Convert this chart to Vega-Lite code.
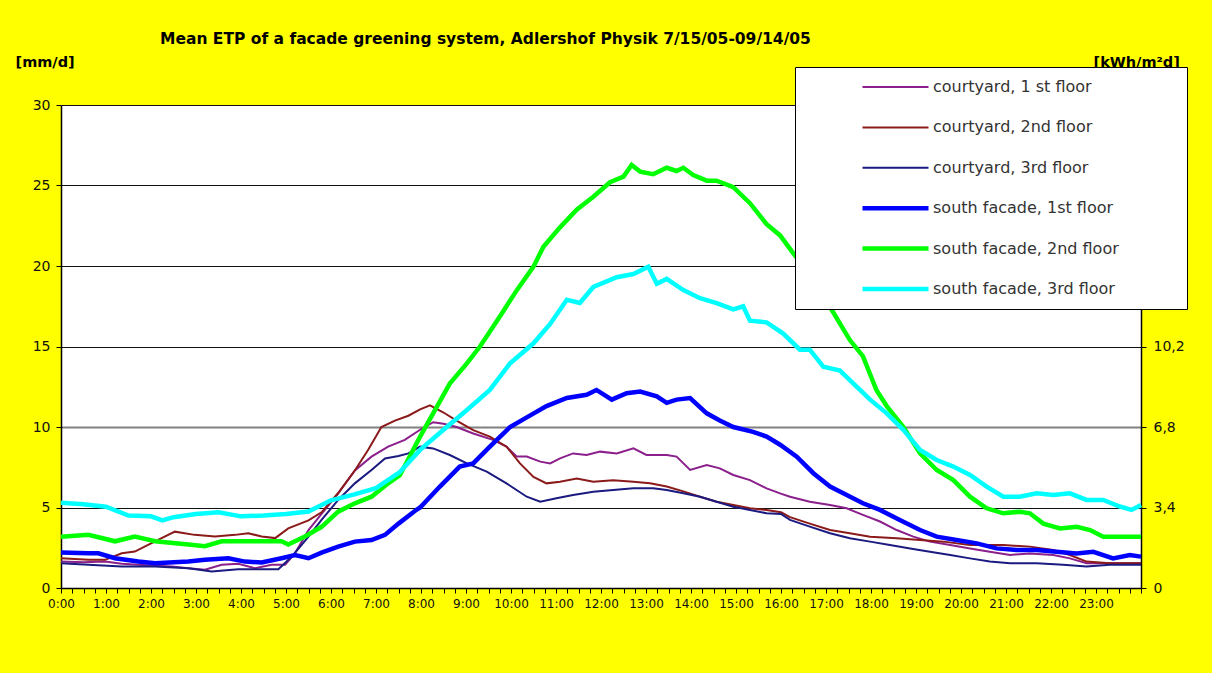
{
  "$schema": "https://vega.github.io/schema/vega-lite/v6.json",
  "width": 1080,
  "height": 483,
  "autosize": {"type": "none"},
  "padding": {"left": 61, "top": 105, "right": 71, "bottom": 85},
  "background": "#ffff00",
  "config": {
    "view": {"fill": "white", "stroke": null},
    "font": "DejaVu Sans",
    "axis": {"domainColor": "#000", "tickColor": "#000", "labelColor": "#111", "labelFont": "DejaVu Sans", "titleFont": "DejaVu Sans", "domainWidth": 1.5}
  },
  "title": {
    "text": "Mean ETP  of a facade greening system, Adlershof Physik 7/15/05-09/14/05",
    "anchor": "start",
    "frame": "group",
    "dx": 99,
    "offset": 7,
    "fontSize": 15.5,
    "fontWeight": "bold",
    "font": "DejaVu Sans",
    "color": "#000"
  },
  "data": {
    "values": [
      {"s":"courtyard, 1 st floor","h":0,"v":1.64},{"s":"courtyard, 1 st floor","h":0.5,"v":1.6},{"s":"courtyard, 1 st floor","h":0.98,"v":1.64},{"s":"courtyard, 1 st floor","h":1.35,"v":1.5},{"s":"courtyard, 1 st floor","h":1.72,"v":1.44},{"s":"courtyard, 1 st floor","h":2.1,"v":1.38},{"s":"courtyard, 1 st floor","h":2.46,"v":1.33},{"s":"courtyard, 1 st floor","h":2.83,"v":1.23},{"s":"courtyard, 1 st floor","h":3.2,"v":1.13},{"s":"courtyard, 1 st floor","h":3.57,"v":1.44},{"s":"courtyard, 1 st floor","h":3.94,"v":1.5},{"s":"courtyard, 1 st floor","h":4.31,"v":1.23},{"s":"courtyard, 1 st floor","h":4.68,"v":1.44},{"s":"courtyard, 1 st floor","h":4.98,"v":1.44},{"s":"courtyard, 1 st floor","h":5.2,"v":2.16},{"s":"courtyard, 1 st floor","h":5.5,"v":3.6},{"s":"courtyard, 1 st floor","h":5.79,"v":4.6},{"s":"courtyard, 1 st floor","h":6.16,"v":5.88},{"s":"courtyard, 1 st floor","h":6.53,"v":7.3},{"s":"courtyard, 1 st floor","h":6.9,"v":8.16},{"s":"courtyard, 1 st floor","h":7.27,"v":8.78},{"s":"courtyard, 1 st floor","h":7.64,"v":9.2},{"s":"courtyard, 1 st floor","h":7.98,"v":9.83},{"s":"courtyard, 1 st floor","h":8.27,"v":10.3},{"s":"courtyard, 1 st floor","h":8.5,"v":10.2},{"s":"courtyard, 1 st floor","h":8.79,"v":10.0},{"s":"courtyard, 1 st floor","h":9.16,"v":9.6},{"s":"courtyard, 1 st floor","h":9.6,"v":9.2},{"s":"courtyard, 1 st floor","h":9.9,"v":8.78},{"s":"courtyard, 1 st floor","h":10.13,"v":8.16},{"s":"courtyard, 1 st floor","h":10.35,"v":8.16},{"s":"courtyard, 1 st floor","h":10.65,"v":7.85},{"s":"courtyard, 1 st floor","h":10.87,"v":7.74},{"s":"courtyard, 1 st floor","h":11.09,"v":8.05},{"s":"courtyard, 1 st floor","h":11.38,"v":8.36},{"s":"courtyard, 1 st floor","h":11.68,"v":8.26},{"s":"courtyard, 1 st floor","h":11.98,"v":8.47},{"s":"courtyard, 1 st floor","h":12.35,"v":8.36},{"s":"courtyard, 1 st floor","h":12.72,"v":8.67},{"s":"courtyard, 1 st floor","h":13.01,"v":8.26},{"s":"courtyard, 1 st floor","h":13.46,"v":8.26},{"s":"courtyard, 1 st floor","h":13.68,"v":8.16},{"s":"courtyard, 1 st floor","h":13.98,"v":7.33},{"s":"courtyard, 1 st floor","h":14.35,"v":7.64},{"s":"courtyard, 1 st floor","h":14.64,"v":7.43},{"s":"courtyard, 1 st floor","h":14.94,"v":7.02},{"s":"courtyard, 1 st floor","h":15.31,"v":6.7},{"s":"courtyard, 1 st floor","h":15.68,"v":6.19},{"s":"courtyard, 1 st floor","h":15.98,"v":5.88},{"s":"courtyard, 1 st floor","h":16.2,"v":5.67},{"s":"courtyard, 1 st floor","h":16.64,"v":5.36},{"s":"courtyard, 1 st floor","h":17.09,"v":5.15},{"s":"courtyard, 1 st floor","h":17.46,"v":4.95},{"s":"courtyard, 1 st floor","h":17.82,"v":4.54},{"s":"courtyard, 1 st floor","h":18.2,"v":4.13},{"s":"courtyard, 1 st floor","h":18.57,"v":3.6},{"s":"courtyard, 1 st floor","h":18.94,"v":3.19},{"s":"courtyard, 1 st floor","h":19.31,"v":2.88},{"s":"courtyard, 1 st floor","h":19.76,"v":2.67},{"s":"courtyard, 1 st floor","h":20.2,"v":2.46},{"s":"courtyard, 1 st floor","h":20.64,"v":2.25},{"s":"courtyard, 1 st floor","h":21.09,"v":2.05},{"s":"courtyard, 1 st floor","h":21.53,"v":2.15},{"s":"courtyard, 1 st floor","h":22.05,"v":2.05},{"s":"courtyard, 1 st floor","h":22.42,"v":1.84},{"s":"courtyard, 1 st floor","h":22.79,"v":1.54},{"s":"courtyard, 1 st floor","h":23.31,"v":1.54},{"s":"courtyard, 1 st floor","h":24,"v":1.54},

      {"s":"courtyard, 2nd floor","h":0,"v":1.85},{"s":"courtyard, 2nd floor","h":0.61,"v":1.75},{"s":"courtyard, 2nd floor","h":0.98,"v":1.75},{"s":"courtyard, 2nd floor","h":1.35,"v":2.16},{"s":"courtyard, 2nd floor","h":1.64,"v":2.26},{"s":"courtyard, 2nd floor","h":2.09,"v":2.9},{"s":"courtyard, 2nd floor","h":2.53,"v":3.5},{"s":"courtyard, 2nd floor","h":2.97,"v":3.3},{"s":"courtyard, 2nd floor","h":3.42,"v":3.2},{"s":"courtyard, 2nd floor","h":3.87,"v":3.3},{"s":"courtyard, 2nd floor","h":4.16,"v":3.4},{"s":"courtyard, 2nd floor","h":4.46,"v":3.2},{"s":"courtyard, 2nd floor","h":4.76,"v":3.1},{"s":"courtyard, 2nd floor","h":5.05,"v":3.7},{"s":"courtyard, 2nd floor","h":5.5,"v":4.2},{"s":"courtyard, 2nd floor","h":5.79,"v":4.7},{"s":"courtyard, 2nd floor","h":6.16,"v":5.9},{"s":"courtyard, 2nd floor","h":6.53,"v":7.3},{"s":"courtyard, 2nd floor","h":6.83,"v":8.6},{"s":"courtyard, 2nd floor","h":7.12,"v":10.0},{"s":"courtyard, 2nd floor","h":7.42,"v":10.4},{"s":"courtyard, 2nd floor","h":7.72,"v":10.7},{"s":"courtyard, 2nd floor","h":7.98,"v":11.1},{"s":"courtyard, 2nd floor","h":8.2,"v":11.35},{"s":"courtyard, 2nd floor","h":8.5,"v":10.9},{"s":"courtyard, 2nd floor","h":8.79,"v":10.4},{"s":"courtyard, 2nd floor","h":9.16,"v":9.8},{"s":"courtyard, 2nd floor","h":9.53,"v":9.4},{"s":"courtyard, 2nd floor","h":9.9,"v":8.78},{"s":"courtyard, 2nd floor","h":10.2,"v":7.74},{"s":"courtyard, 2nd floor","h":10.5,"v":6.9},{"s":"courtyard, 2nd floor","h":10.79,"v":6.5},{"s":"courtyard, 2nd floor","h":11.09,"v":6.6},{"s":"courtyard, 2nd floor","h":11.46,"v":6.8},{"s":"courtyard, 2nd floor","h":11.83,"v":6.6},{"s":"courtyard, 2nd floor","h":12.27,"v":6.7},{"s":"courtyard, 2nd floor","h":12.72,"v":6.6},{"s":"courtyard, 2nd floor","h":13.09,"v":6.5},{"s":"courtyard, 2nd floor","h":13.46,"v":6.3},{"s":"courtyard, 2nd floor","h":13.83,"v":6.0},{"s":"courtyard, 2nd floor","h":14.2,"v":5.67},{"s":"courtyard, 2nd floor","h":14.57,"v":5.36},{"s":"courtyard, 2nd floor","h":14.94,"v":5.15},{"s":"courtyard, 2nd floor","h":15.31,"v":4.95},{"s":"courtyard, 2nd floor","h":15.68,"v":4.85},{"s":"courtyard, 2nd floor","h":16.0,"v":4.7},{"s":"courtyard, 2nd floor","h":16.2,"v":4.4},{"s":"courtyard, 2nd floor","h":16.64,"v":4.0},{"s":"courtyard, 2nd floor","h":17.09,"v":3.6},{"s":"courtyard, 2nd floor","h":17.53,"v":3.4},{"s":"courtyard, 2nd floor","h":17.98,"v":3.19},{"s":"courtyard, 2nd floor","h":18.57,"v":3.09},{"s":"courtyard, 2nd floor","h":19.09,"v":2.98},{"s":"courtyard, 2nd floor","h":19.61,"v":2.88},{"s":"courtyard, 2nd floor","h":20.2,"v":2.67},{"s":"courtyard, 2nd floor","h":20.94,"v":2.67},{"s":"courtyard, 2nd floor","h":21.53,"v":2.57},{"s":"courtyard, 2nd floor","h":22.05,"v":2.36},{"s":"courtyard, 2nd floor","h":22.42,"v":2.05},{"s":"courtyard, 2nd floor","h":22.79,"v":1.64},{"s":"courtyard, 2nd floor","h":23.31,"v":1.54},{"s":"courtyard, 2nd floor","h":24,"v":1.54},

      {"s":"courtyard, 3rd floor","h":0,"v":1.54},{"s":"courtyard, 3rd floor","h":0.61,"v":1.44},{"s":"courtyard, 3rd floor","h":1.35,"v":1.33},{"s":"courtyard, 3rd floor","h":2.09,"v":1.33},{"s":"courtyard, 3rd floor","h":2.83,"v":1.23},{"s":"courtyard, 3rd floor","h":3.35,"v":1.02},{"s":"courtyard, 3rd floor","h":3.94,"v":1.17},{"s":"courtyard, 3rd floor","h":4.46,"v":1.17},{"s":"courtyard, 3rd floor","h":4.83,"v":1.17},{"s":"courtyard, 3rd floor","h":5.13,"v":1.96},{"s":"courtyard, 3rd floor","h":5.5,"v":3.19},{"s":"courtyard, 3rd floor","h":5.79,"v":4.23},{"s":"courtyard, 3rd floor","h":6.16,"v":5.47},{"s":"courtyard, 3rd floor","h":6.53,"v":6.5},{"s":"courtyard, 3rd floor","h":6.9,"v":7.33},{"s":"courtyard, 3rd floor","h":7.2,"v":8.05},{"s":"courtyard, 3rd floor","h":7.5,"v":8.2},{"s":"courtyard, 3rd floor","h":7.72,"v":8.36},{"s":"courtyard, 3rd floor","h":7.98,"v":8.78},{"s":"courtyard, 3rd floor","h":8.27,"v":8.67},{"s":"courtyard, 3rd floor","h":8.64,"v":8.26},{"s":"courtyard, 3rd floor","h":9.02,"v":7.74},{"s":"courtyard, 3rd floor","h":9.46,"v":7.23},{"s":"courtyard, 3rd floor","h":9.9,"v":6.5},{"s":"courtyard, 3rd floor","h":10.35,"v":5.67},{"s":"courtyard, 3rd floor","h":10.65,"v":5.36},{"s":"courtyard, 3rd floor","h":11.01,"v":5.57},{"s":"courtyard, 3rd floor","h":11.38,"v":5.78},{"s":"courtyard, 3rd floor","h":11.83,"v":5.98},{"s":"courtyard, 3rd floor","h":12.27,"v":6.09},{"s":"courtyard, 3rd floor","h":12.72,"v":6.19},{"s":"courtyard, 3rd floor","h":13.16,"v":6.19},{"s":"courtyard, 3rd floor","h":13.46,"v":6.09},{"s":"courtyard, 3rd floor","h":13.83,"v":5.88},{"s":"courtyard, 3rd floor","h":14.2,"v":5.67},{"s":"courtyard, 3rd floor","h":14.57,"v":5.36},{"s":"courtyard, 3rd floor","h":14.94,"v":5.05},{"s":"courtyard, 3rd floor","h":15.31,"v":4.85},{"s":"courtyard, 3rd floor","h":15.68,"v":4.64},{"s":"courtyard, 3rd floor","h":16.0,"v":4.6},{"s":"courtyard, 3rd floor","h":16.2,"v":4.23},{"s":"courtyard, 3rd floor","h":16.64,"v":3.81},{"s":"courtyard, 3rd floor","h":17.09,"v":3.4},{"s":"courtyard, 3rd floor","h":17.53,"v":3.09},{"s":"courtyard, 3rd floor","h":17.98,"v":2.88},{"s":"courtyard, 3rd floor","h":18.42,"v":2.67},{"s":"courtyard, 3rd floor","h":18.87,"v":2.46},{"s":"courtyard, 3rd floor","h":19.31,"v":2.25},{"s":"courtyard, 3rd floor","h":19.76,"v":2.05},{"s":"courtyard, 3rd floor","h":20.2,"v":1.84},{"s":"courtyard, 3rd floor","h":20.64,"v":1.64},{"s":"courtyard, 3rd floor","h":21.09,"v":1.54},{"s":"courtyard, 3rd floor","h":21.68,"v":1.54},{"s":"courtyard, 3rd floor","h":22.27,"v":1.44},{"s":"courtyard, 3rd floor","h":22.79,"v":1.33},{"s":"courtyard, 3rd floor","h":23.31,"v":1.44},{"s":"courtyard, 3rd floor","h":24,"v":1.44},

      {"s":"south facade, 1st floor","h":0,"v":2.2},{"s":"south facade, 1st floor","h":0.61,"v":2.16},{"s":"south facade, 1st floor","h":0.83,"v":2.16},{"s":"south facade, 1st floor","h":1.2,"v":1.85},{"s":"south facade, 1st floor","h":1.72,"v":1.64},{"s":"south facade, 1st floor","h":2.09,"v":1.54},{"s":"south facade, 1st floor","h":2.83,"v":1.64},{"s":"south facade, 1st floor","h":3.2,"v":1.75},{"s":"south facade, 1st floor","h":3.72,"v":1.85},{"s":"south facade, 1st floor","h":4.09,"v":1.64},{"s":"south facade, 1st floor","h":4.46,"v":1.58},{"s":"south facade, 1st floor","h":4.9,"v":1.85},{"s":"south facade, 1st floor","h":5.2,"v":2.05},{"s":"south facade, 1st floor","h":5.5,"v":1.85},{"s":"south facade, 1st floor","h":5.79,"v":2.2},{"s":"south facade, 1st floor","h":6.16,"v":2.57},{"s":"south facade, 1st floor","h":6.53,"v":2.88},{"s":"south facade, 1st floor","h":6.9,"v":2.98},{"s":"south facade, 1st floor","h":7.2,"v":3.3},{"s":"south facade, 1st floor","h":7.5,"v":4.0},{"s":"south facade, 1st floor","h":7.87,"v":4.8},{"s":"south facade, 1st floor","h":7.98,"v":5.0},{"s":"south facade, 1st floor","h":8.42,"v":6.3},{"s":"south facade, 1st floor","h":8.86,"v":7.54},{"s":"south facade, 1st floor","h":9.16,"v":7.74},{"s":"south facade, 1st floor","h":9.53,"v":8.78},{"s":"south facade, 1st floor","h":9.98,"v":10.0},{"s":"south facade, 1st floor","h":10.35,"v":10.6},{"s":"south facade, 1st floor","h":10.79,"v":11.3},{"s":"south facade, 1st floor","h":11.24,"v":11.8},{"s":"south facade, 1st floor","h":11.68,"v":12.0},{"s":"south facade, 1st floor","h":11.9,"v":12.3},{"s":"south facade, 1st floor","h":12.24,"v":11.7},{"s":"south facade, 1st floor","h":12.57,"v":12.1},{"s":"south facade, 1st floor","h":12.87,"v":12.2},{"s":"south facade, 1st floor","h":13.24,"v":11.9},{"s":"south facade, 1st floor","h":13.46,"v":11.5},{"s":"south facade, 1st floor","h":13.68,"v":11.7},{"s":"south facade, 1st floor","h":13.98,"v":11.8},{"s":"south facade, 1st floor","h":14.35,"v":10.85},{"s":"south facade, 1st floor","h":14.64,"v":10.4},{"s":"south facade, 1st floor","h":14.94,"v":10.0},{"s":"south facade, 1st floor","h":15.38,"v":9.7},{"s":"south facade, 1st floor","h":15.68,"v":9.4},{"s":"south facade, 1st floor","h":15.98,"v":8.9},{"s":"south facade, 1st floor","h":16.35,"v":8.16},{"s":"south facade, 1st floor","h":16.72,"v":7.13},{"s":"south facade, 1st floor","h":17.09,"v":6.3},{"s":"south facade, 1st floor","h":17.46,"v":5.78},{"s":"south facade, 1st floor","h":17.82,"v":5.26},{"s":"south facade, 1st floor","h":18.2,"v":4.85},{"s":"south facade, 1st floor","h":18.64,"v":4.23},{"s":"south facade, 1st floor","h":19.09,"v":3.6},{"s":"south facade, 1st floor","h":19.46,"v":3.19},{"s":"south facade, 1st floor","h":19.9,"v":2.98},{"s":"south facade, 1st floor","h":20.35,"v":2.77},{"s":"south facade, 1st floor","h":20.79,"v":2.46},{"s":"south facade, 1st floor","h":21.24,"v":2.36},{"s":"south facade, 1st floor","h":21.68,"v":2.36},{"s":"south facade, 1st floor","h":22.12,"v":2.25},{"s":"south facade, 1st floor","h":22.57,"v":2.15},{"s":"south facade, 1st floor","h":22.94,"v":2.25},{"s":"south facade, 1st floor","h":23.38,"v":1.84},{"s":"south facade, 1st floor","h":23.75,"v":2.05},{"s":"south facade, 1st floor","h":24,"v":1.95},

      {"s":"south facade, 2nd floor","h":0,"v":3.19},{"s":"south facade, 2nd floor","h":0.61,"v":3.3},{"s":"south facade, 2nd floor","h":1.2,"v":2.9},{"s":"south facade, 2nd floor","h":1.64,"v":3.2},{"s":"south facade, 2nd floor","h":2.09,"v":2.9},{"s":"south facade, 2nd floor","h":2.83,"v":2.7},{"s":"south facade, 2nd floor","h":3.2,"v":2.6},{"s":"south facade, 2nd floor","h":3.57,"v":2.9},{"s":"south facade, 2nd floor","h":3.94,"v":2.9},{"s":"south facade, 2nd floor","h":4.31,"v":2.9},{"s":"south facade, 2nd floor","h":4.9,"v":2.9},{"s":"south facade, 2nd floor","h":5.05,"v":2.7},{"s":"south facade, 2nd floor","h":5.42,"v":3.2},{"s":"south facade, 2nd floor","h":5.79,"v":3.8},{"s":"south facade, 2nd floor","h":6.16,"v":4.74},{"s":"south facade, 2nd floor","h":6.53,"v":5.26},{"s":"south facade, 2nd floor","h":6.9,"v":5.67},{"s":"south facade, 2nd floor","h":7.27,"v":6.5},{"s":"south facade, 2nd floor","h":7.53,"v":7.0},{"s":"south facade, 2nd floor","h":7.98,"v":9.4},{"s":"south facade, 2nd floor","h":8.27,"v":10.85},{"s":"south facade, 2nd floor","h":8.64,"v":12.7},{"s":"south facade, 2nd floor","h":9.02,"v":13.95},{"s":"south facade, 2nd floor","h":9.31,"v":15.0},{"s":"south facade, 2nd floor","h":9.76,"v":16.9},{"s":"south facade, 2nd floor","h":10.13,"v":18.5},{"s":"south facade, 2nd floor","h":10.5,"v":19.96},{"s":"south facade, 2nd floor","h":10.72,"v":21.2},{"s":"south facade, 2nd floor","h":11.09,"v":22.4},{"s":"south facade, 2nd floor","h":11.46,"v":23.5},{"s":"south facade, 2nd floor","h":11.83,"v":24.3},{"s":"south facade, 2nd floor","h":12.2,"v":25.2},{"s":"south facade, 2nd floor","h":12.5,"v":25.55},{"s":"south facade, 2nd floor","h":12.68,"v":26.27},{"s":"south facade, 2nd floor","h":12.87,"v":25.86},{"s":"south facade, 2nd floor","h":13.16,"v":25.7},{"s":"south facade, 2nd floor","h":13.46,"v":26.1},{"s":"south facade, 2nd floor","h":13.68,"v":25.9},{"s":"south facade, 2nd floor","h":13.83,"v":26.1},{"s":"south facade, 2nd floor","h":14.05,"v":25.65},{"s":"south facade, 2nd floor","h":14.35,"v":25.3},{"s":"south facade, 2nd floor","h":14.57,"v":25.3},{"s":"south facade, 2nd floor","h":14.94,"v":24.9},{"s":"south facade, 2nd floor","h":15.31,"v":23.9},{"s":"south facade, 2nd floor","h":15.68,"v":22.6},{"s":"south facade, 2nd floor","h":15.98,"v":21.9},{"s":"south facade, 2nd floor","h":16.27,"v":20.8},{"s":"south facade, 2nd floor","h":16.6,"v":19.6},{"s":"south facade, 2nd floor","h":16.9,"v":18.3},{"s":"south facade, 2nd floor","h":17.13,"v":17.27},{"s":"south facade, 2nd floor","h":17.53,"v":15.4},{"s":"south facade, 2nd floor","h":17.82,"v":14.4},{"s":"south facade, 2nd floor","h":18.12,"v":12.3},{"s":"south facade, 2nd floor","h":18.35,"v":11.3},{"s":"south facade, 2nd floor","h":18.72,"v":10.0},{"s":"south facade, 2nd floor","h":19.09,"v":8.36},{"s":"south facade, 2nd floor","h":19.46,"v":7.33},{"s":"south facade, 2nd floor","h":19.83,"v":6.7},{"s":"south facade, 2nd floor","h":20.2,"v":5.67},{"s":"south facade, 2nd floor","h":20.57,"v":4.95},{"s":"south facade, 2nd floor","h":20.94,"v":4.64},{"s":"south facade, 2nd floor","h":21.31,"v":4.74},{"s":"south facade, 2nd floor","h":21.53,"v":4.64},{"s":"south facade, 2nd floor","h":21.83,"v":4.0},{"s":"south facade, 2nd floor","h":22.2,"v":3.7},{"s":"south facade, 2nd floor","h":22.57,"v":3.8},{"s":"south facade, 2nd floor","h":22.87,"v":3.6},{"s":"south facade, 2nd floor","h":23.16,"v":3.19},{"s":"south facade, 2nd floor","h":23.53,"v":3.19},{"s":"south facade, 2nd floor","h":24,"v":3.19},

      {"s":"south facade, 3rd floor","h":0,"v":5.3},{"s":"south facade, 3rd floor","h":0.5,"v":5.2},{"s":"south facade, 3rd floor","h":1.0,"v":5.05},{"s":"south facade, 3rd floor","h":1.5,"v":4.5},{"s":"south facade, 3rd floor","h":2.0,"v":4.45},{"s":"south facade, 3rd floor","h":2.25,"v":4.2},{"s":"south facade, 3rd floor","h":2.5,"v":4.4},{"s":"south facade, 3rd floor","h":3.0,"v":4.6},{"s":"south facade, 3rd floor","h":3.5,"v":4.7},{"s":"south facade, 3rd floor","h":4.0,"v":4.45},{"s":"south facade, 3rd floor","h":4.5,"v":4.5},{"s":"south facade, 3rd floor","h":5.0,"v":4.6},{"s":"south facade, 3rd floor","h":5.5,"v":4.75},{"s":"south facade, 3rd floor","h":6.0,"v":5.45},{"s":"south facade, 3rd floor","h":6.5,"v":5.8},{"s":"south facade, 3rd floor","h":7.0,"v":6.2},{"s":"south facade, 3rd floor","h":7.53,"v":7.2},{"s":"south facade, 3rd floor","h":7.98,"v":8.58},{"s":"south facade, 3rd floor","h":8.5,"v":9.83},{"s":"south facade, 3rd floor","h":9.02,"v":11.06},{"s":"south facade, 3rd floor","h":9.53,"v":12.3},{"s":"south facade, 3rd floor","h":9.98,"v":13.96},{"s":"south facade, 3rd floor","h":10.5,"v":15.2},{"s":"south facade, 3rd floor","h":10.87,"v":16.4},{"s":"south facade, 3rd floor","h":11.24,"v":17.9},{"s":"south facade, 3rd floor","h":11.53,"v":17.7},{"s":"south facade, 3rd floor","h":11.83,"v":18.7},{"s":"south facade, 3rd floor","h":12.35,"v":19.3},{"s":"south facade, 3rd floor","h":12.72,"v":19.5},{"s":"south facade, 3rd floor","h":13.05,"v":19.96},{"s":"south facade, 3rd floor","h":13.24,"v":18.9},{"s":"south facade, 3rd floor","h":13.46,"v":19.2},{"s":"south facade, 3rd floor","h":13.83,"v":18.5},{"s":"south facade, 3rd floor","h":14.2,"v":18.0},{"s":"south facade, 3rd floor","h":14.57,"v":17.7},{"s":"south facade, 3rd floor","h":14.94,"v":17.3},{"s":"south facade, 3rd floor","h":15.16,"v":17.5},{"s":"south facade, 3rd floor","h":15.31,"v":16.6},{"s":"south facade, 3rd floor","h":15.68,"v":16.5},{"s":"south facade, 3rd floor","h":16.05,"v":15.8},{"s":"south facade, 3rd floor","h":16.42,"v":14.8},{"s":"south facade, 3rd floor","h":16.64,"v":14.8},{"s":"south facade, 3rd floor","h":16.94,"v":13.75},{"s":"south facade, 3rd floor","h":17.31,"v":13.5},{"s":"south facade, 3rd floor","h":17.61,"v":12.7},{"s":"south facade, 3rd floor","h":17.98,"v":11.7},{"s":"south facade, 3rd floor","h":18.35,"v":10.85},{"s":"south facade, 3rd floor","h":18.72,"v":9.82},{"s":"south facade, 3rd floor","h":19.09,"v":8.57},{"s":"south facade, 3rd floor","h":19.46,"v":7.95},{"s":"south facade, 3rd floor","h":19.83,"v":7.54},{"s":"south facade, 3rd floor","h":20.2,"v":7.02},{"s":"south facade, 3rd floor","h":20.57,"v":6.3},{"s":"south facade, 3rd floor","h":20.94,"v":5.67},{"s":"south facade, 3rd floor","h":21.31,"v":5.67},{"s":"south facade, 3rd floor","h":21.68,"v":5.88},{"s":"south facade, 3rd floor","h":22.05,"v":5.78},{"s":"south facade, 3rd floor","h":22.42,"v":5.88},{"s":"south facade, 3rd floor","h":22.79,"v":5.47},{"s":"south facade, 3rd floor","h":23.16,"v":5.47},{"s":"south facade, 3rd floor","h":23.53,"v":5.06},{"s":"south facade, 3rd floor","h":23.79,"v":4.85},{"s":"south facade, 3rd floor","h":24,"v":5.15}
    ]
  },
  "encoding": {
    "x": {
      "field": "h",
      "type": "quantitative",
      "scale": {"domain": [0, 24], "nice": false},
      "axis": {
        "title": null,
        "grid": false,
        "values": [0,0.25,0.5,0.75,1,1.25,1.5,1.75,2,2.25,2.5,2.75,3,3.25,3.5,3.75,4,4.25,4.5,4.75,5,5.25,5.5,5.75,6,6.25,6.5,6.75,7,7.25,7.5,7.75,8,8.25,8.5,8.75,9,9.25,9.5,9.75,10,10.25,10.5,10.75,11,11.25,11.5,11.75,12,12.25,12.5,12.75,13,13.25,13.5,13.75,14,14.25,14.5,14.75,15,15.25,15.5,15.75,16,16.25,16.5,16.75,17,17.25,17.5,17.75,18,18.25,18.5,18.75,19,19.25,19.5,19.75,20,20.25,20.5,20.75,21,21.25,21.5,21.75,22,22.25,22.5,22.75,23,23.25,23.5,23.75,24],
        "labelExpr": "datum.value % 1 == 0 && datum.value < 24 ? datum.value + ':00' : ''",
        "labelOverlap": false,
        "labelFlush": false,
        "labelFontSize": 12,
        "labelPadding": 5,
        "tickSize": 5
      }
    },
    "y": {
      "field": "v",
      "type": "quantitative",
      "scale": {"domain": [0, 30], "nice": false}
    },
    "color": {
      "field": "s",
      "type": "nominal",
      "scale": {
        "domain": ["courtyard, 1 st floor","courtyard, 2nd floor","courtyard, 3rd floor","south facade, 1st floor","south facade, 2nd floor","south facade, 3rd floor"],
        "range": ["#8b1f8b","#8b1a1a","#1a1a80","#0000ff","#00ff00","#00ffff"]
      },
      "legend": {
        "orient": "none",
        "legendX": 734,
        "legendY": -38,
        "title": null,
        "fillColor": "white",
        "strokeColor": "black",
        "padding": 9,
        "symbolType": "M-3,0H3",
        "symbolSize": 484,
        "symbolOffset": 78,
        "clipHeight": 22,
        "labelOffset": 24,
        "rowPadding": 18.4,
        "labelFontSize": 16,
        "labelFont": "DejaVu Sans",
        "labelColor": "#333",
        "labelLimit": 500,
        "labelExpr": "datum.label + '\u2800\u2800\u2800\u2800\u2800'"
      }
    },
    "strokeWidth": {
      "field": "s",
      "type": "nominal",
      "scale": {
        "type": "ordinal",
        "domain": ["courtyard, 1 st floor","courtyard, 2nd floor","courtyard, 3rd floor","south facade, 1st floor","south facade, 2nd floor","south facade, 3rd floor"],
        "range": [2, 2, 2, 4.5, 4.5, 4.5]
      },
      "legend": {
        "orient": "none",
        "legendX": 734,
        "legendY": -38,
        "title": null,
        "fillColor": "white",
        "strokeColor": "black",
        "padding": 9,
        "symbolType": "M-3,0H3",
        "symbolSize": 484,
        "symbolOffset": 78,
        "clipHeight": 22,
        "labelOffset": 24,
        "rowPadding": 18.4,
        "labelFontSize": 16,
        "labelFont": "DejaVu Sans",
        "labelColor": "#333",
        "labelLimit": 500,
        "labelExpr": "datum.label + '\u2800\u2800\u2800\u2800\u2800'"
      }
    }
  },
  "layer": [
    {
      "transform": [{"filter": "indexof(datum.s, 'courtyard') == 0"}],
      "mark": {"type": "line", "interpolate": "linear"},
      "encoding": {
        "y": {
          "field": "v",
          "type": "quantitative",
          "scale": {"domain": [0, 30], "nice": false},
          "axis": {
            "orient": "left",
            "values": [0, 5, 10, 15, 20, 25, 30],
            "grid": true,
            "gridColor": {"condition": {"test": "datum.value == 10", "value": "#808080"}, "value": "#111"},
            "gridWidth": {"condition": {"test": "datum.value == 10", "value": 2}, "value": 1},
            "labelFontSize": 14,
            "labelPadding": 6,
            "tickSize": 5,
            "title": "[mm/d]",
            "titleAngle": 0,
            "titleAlign": "left",
            "titleBaseline": "middle",
            "titleX": -46,
            "titleY": -43,
            "titleFontSize": 14.5,
            "titleFontWeight": "bold",
            "titleColor": "#000"
          }
        }
      }
    },
    {
      "transform": [{"filter": "indexof(datum.s, 'south') == 0"}],
      "mark": {"type": "line", "interpolate": "linear"},
      "encoding": {
        "y": {
          "field": "v",
          "type": "quantitative",
          "scale": {"domain": [0, 30], "nice": false},
          "axis": {
            "orient": "right",
            "values": [0, 5, 10, 15, 20, 25, 30],
            "grid": false,
            "labelExpr": "replace(format(datum.value * 0.68, '.1~f'), '.', ',')",
            "labelFontSize": 14,
            "labelPadding": 7,
            "tickSize": 5,
            "title": "[kWh/m²d]",
            "titleAngle": 0,
            "titleAlign": "left",
            "titleBaseline": "middle",
            "titleX": -48,
            "titleY": -43,
            "titleFontSize": 14.5,
            "titleFontWeight": "bold",
            "titleColor": "#000"
          }
        }
      }
    }
  ],
  "resolve": {"scale": {"y": "shared"}, "axis": {"y": "independent"}}
}
